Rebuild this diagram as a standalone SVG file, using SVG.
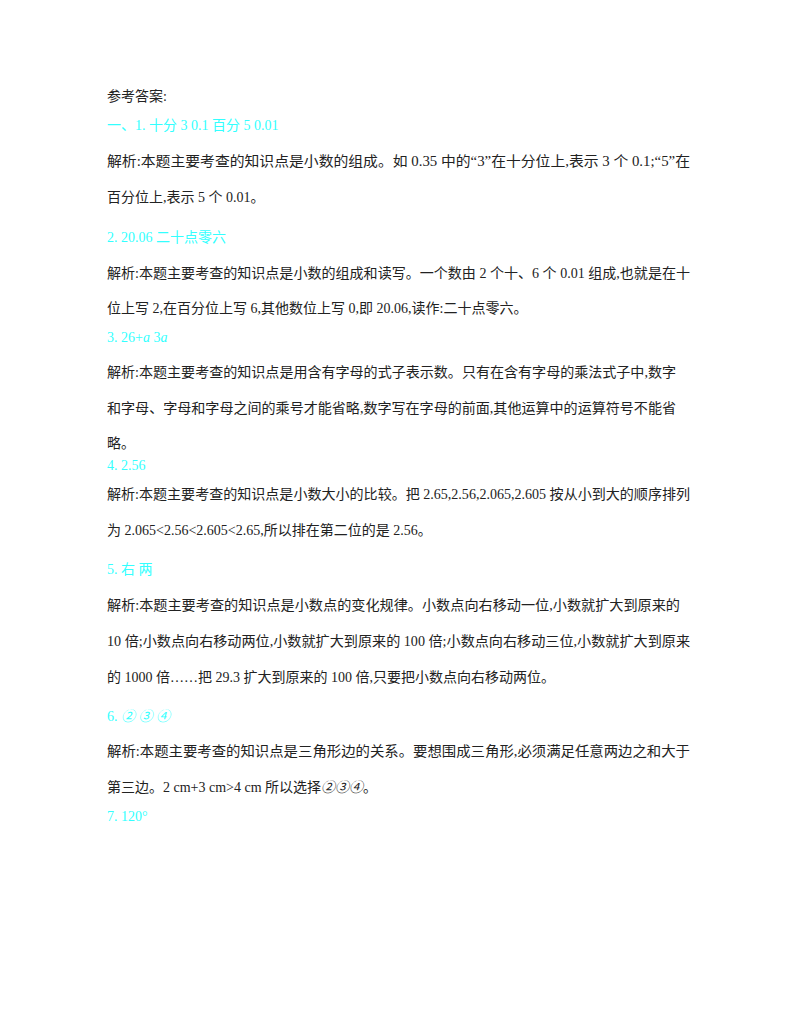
<svg xmlns="http://www.w3.org/2000/svg" width="800" height="1009" viewBox="0 0 800 1009">
<style>
text{font-family:"Liberation Serif","Noto Sans CJK SC",serif;font-size:14px;fill:#222}
.c{fill:#33ffff}
.i{font-style:italic}
</style>
<rect width="800" height="1009" fill="#fff"/>
<g id="text">
<text x="107" y="101">参考答案:</text>
<text x="107" y="130" class="c">一、1.  十分    3    0.1    百分    5    0.01</text>
<text x="107" y="166" textLength="583" lengthAdjust="spacingAndGlyphs">解析:本题主要考查的知识点是小数的组成。如 0.35 中的“3”在十分位上,表示 3 个 0.1;“5”在</text>
<text x="107" y="202">百分位上,表示 5 个 0.01。</text>
<text x="107" y="242" class="c">2.  20.06    二十点零六</text>
<text x="107" y="278" textLength="583" lengthAdjust="spacingAndGlyphs">解析:本题主要考查的知识点是小数的组成和读写。一个数由 2 个十、6 个 0.01 组成,也就是在十</text>
<text x="107" y="313">位上写 2,在百分位上写 6,其他数位上写 0,即 20.06,读作:二十点零六。</text>
<text x="107" y="342" class="c">3.  26+<tspan class="i">a</tspan>    3<tspan class="i">a</tspan></text>
<text x="107" y="377" textLength="569" lengthAdjust="spacingAndGlyphs">解析:本题主要考查的知识点是用含有字母的式子表示数。只有在含有字母的乘法式子中,数字</text>
<text x="107" y="413" textLength="569" lengthAdjust="spacingAndGlyphs">和字母、字母和字母之间的乘号才能省略,数字写在字母的前面,其他运算中的运算符号不能省</text>
<text x="107" y="448">略。</text>
<text x="107" y="470" class="c">4.  2.56</text>
<text x="107" y="499" textLength="583" lengthAdjust="spacingAndGlyphs">解析:本题主要考查的知识点是小数大小的比较。把 2.65,2.56,2.065,2.605 按从小到大的顺序排列</text>
<text x="107" y="535">为 2.065&lt;2.56&lt;2.605&lt;2.65,所以排在第二位的是 2.56。</text>
<text x="107" y="574" class="c">5.  右    两</text>
<text x="107" y="610" textLength="573" lengthAdjust="spacingAndGlyphs">解析:本题主要考查的知识点是小数点的变化规律。小数点向右移动一位,小数就扩大到原来的</text>
<text x="107" y="646" textLength="583" lengthAdjust="spacingAndGlyphs">10 倍;小数点向右移动两位,小数就扩大到原来的 100 倍;小数点向右移动三位,小数就扩大到原来</text>
<text x="107" y="682">的 1000 倍……把 29.3 扩大到原来的 100 倍,只要把小数点向右移动两位。</text>
<text x="107" y="721" class="c">6.  <tspan class="i">②    ③    ④</tspan></text>
<text x="107" y="756" textLength="583" lengthAdjust="spacingAndGlyphs">解析:本题主要考查的知识点是三角形边的关系。要想围成三角形,必须满足任意两边之和大于</text>
<text x="107" y="792">第三边。2  cm+3  cm&gt;4  cm 所以选择<tspan class="i">②③④</tspan>。</text>
<text x="107" y="821" class="c">7.  120°</text>
</g>
</svg>
